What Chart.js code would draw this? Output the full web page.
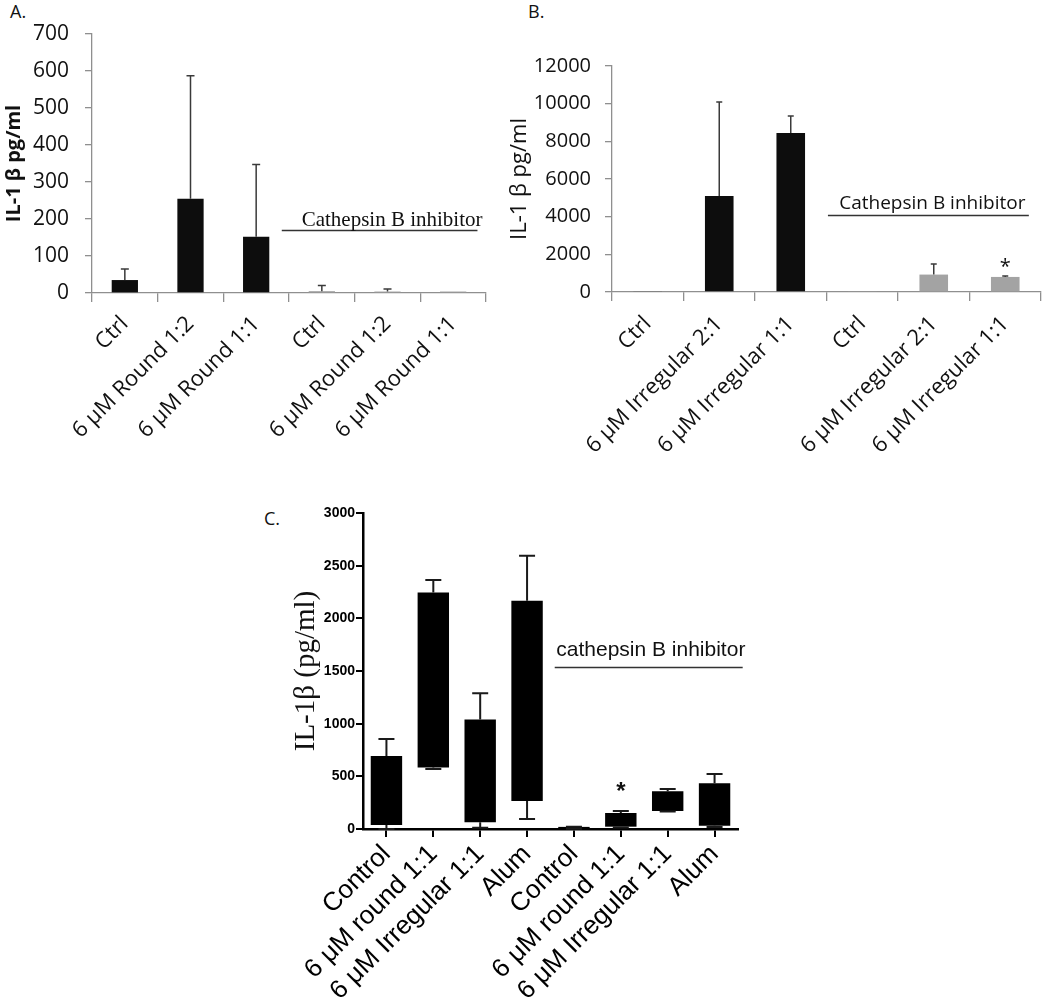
<!DOCTYPE html>
<html>
<head>
<meta charset="utf-8">
<script src="https://cdn.jsdelivr.net/npm/chart.js@4.4.1/dist/chart.umd.min.js"></script>
<style>
    body { margin: 0; background: #fff; width: 1050px; height: 1007px; position: relative; overflow: hidden; }
    .panel { position: absolute; }
    .tag { position: absolute; font-family: "Open Sans", sans-serif; font-size: 18px; line-height: 1; color: #111; }
</style>
</head>
<body>
<div class="tag" style="left:10px;top:2px;">A.</div>
<div class="tag" style="left:528px;top:2px;">B.</div>
<div class="tag" style="left:264px;top:509px;">C.</div>

<canvas class="panel" id="chart-a" width="505" height="480" style="left:0;top:0;"></canvas>
<canvas class="panel" id="chart-b" width="545" height="480" style="left:505px;top:0;"></canvas>
<canvas class="panel" id="chart-c" width="520" height="537" style="left:250px;top:470px;"></canvas>

<script>
// Panel A - round particles
const labelsA = ['Ctrl', '6 μM Round 1:2', '6 μM Round 1:1', 'Ctrl', '6 μM Round 1:2', '6 μM Round 1:1'];
const meansA = [35, 255, 152, 5, 4, 4];
const errTopA = [65, 587, 347, 20, 11, null];
const inhibitorA = [false, false, false, true, true, true];
const ticksA = [0, 100, 200, 300, 400, 500, 600, 700];

// Panel B - irregular particles
const labelsB = ['Ctrl', '6 μM Irregular 2:1', '6 μM Irregular 1:1', 'Ctrl', '6 μM Irregular 2:1', '6 μM Irregular 1:1'];
const meansB = [30, 5100, 8440, 25, 925, 800];
const errTopB = [null, 10090, 9350, null, 1490, 850];
const inhibitorB = [false, false, false, true, true, true];
const starB = [false, false, false, false, false, true];
const ticksB = [0, 2000, 4000, 6000, 8000, 10000, 12000];

// Panel C - box plots (min, box low, box high, max)
const labelsC = ['Control', '6 μM round 1:1', '6 μM Irregular 1:1', 'Alum', 'Control', '6 μM round 1:1', '6 μM Irregular 1:1', 'Alum'];
const minC = [0, 570, 13, 95, 3, 15, 165, 20];
const lowC = [38, 583, 63, 266, 5, 22, 171, 31];
const highC = [694, 2245, 1039, 2167, 20, 152, 358, 434];
const maxC = [855, 2363, 1289, 2594, 22, 171, 380, 522];
const starC = [false, false, false, false, false, true, false, false];
const ticksC = [0, 500, 1000, 1500, 2000, 2500, 3000];

const BLACK = '#0d0d0d';
const GRAY = '#a3a3a3';
const SANS = '"Open Sans", sans-serif';

// error bars (upper only) for panels A/B
function errorBars(tops, color, cap) {
    return {
        id: 'errorBars',
        afterDatasetsDraw(chart) {
            const ctx = chart.ctx;
            const y = chart.scales.y;
            const meta = chart.getDatasetMeta(0);
            ctx.save();
            ctx.strokeStyle = color;
            ctx.lineWidth = 1.5;
            meta.data.forEach((bar, i) => {
                if (tops[i] == null) return;
                const yTop = y.getPixelForValue(tops[i]);
                ctx.beginPath();
                ctx.moveTo(bar.x, bar.y);
                ctx.lineTo(bar.x, yTop);
                ctx.moveTo(bar.x - cap, yTop);
                ctx.lineTo(bar.x + cap, yTop);
                ctx.stroke();
            });
            ctx.restore();
        }
    };
}

// whiskers for panel C
function whiskers(mins, lows, highs, maxs, cap) {
    return {
        id: 'whiskers',
        afterDatasetsDraw(chart) {
            const ctx = chart.ctx;
            const y = chart.scales.y;
            const meta = chart.getDatasetMeta(0);
            ctx.save();
            ctx.strokeStyle = '#1a1a1a';
            ctx.lineWidth = 2;
            meta.data.forEach((bar, i) => {
                const pairs = [[highs[i], maxs[i]], [lows[i], mins[i]]];
                pairs.forEach(([from, to]) => {
                    const y0 = y.getPixelForValue(from);
                    const y1 = y.getPixelForValue(to);
                    ctx.beginPath();
                    ctx.moveTo(bar.x, y0);
                    ctx.lineTo(bar.x, y1);
                    ctx.moveTo(bar.x - cap, y1);
                    ctx.lineTo(bar.x + cap, y1);
                    ctx.stroke();
                });
            });
            ctx.restore();
        }
    };
}

// asterisks above the marked bars
function stars(flags, tops, gap, font) {
    return {
        id: 'stars',
        afterDatasetsDraw(chart) {
            const ctx = chart.ctx;
            const y = chart.scales.y;
            const meta = chart.getDatasetMeta(0);
            ctx.save();
            ctx.fillStyle = '#111';
            ctx.font = font;
            ctx.textAlign = 'center';
            ctx.textBaseline = 'middle';
            meta.data.forEach((bar, i) => {
                if (!flags[i]) return;
                ctx.fillText('*', bar.x, y.getPixelForValue(tops[i]) - gap);
            });
            ctx.restore();
        }
    };
}

// "Cathepsin B inhibitor" label with line under it
function inhibitorLabel(text, font, x0, x1, xText, yVal, lift, color) {
    return {
        id: 'inhibitorLabel',
        afterDraw(chart) {
            const { x, y } = chart.scales;
            const ctx = chart.ctx;
            const py = Math.round(y.getPixelForValue(yVal)) + 0.5;
            ctx.save();
            ctx.strokeStyle = '#333';
            ctx.lineWidth = 1.3;
            ctx.beginPath();
            ctx.moveTo(x.getPixelForValue(x0), py);
            ctx.lineTo(x.getPixelForValue(x1), py);
            ctx.stroke();
            ctx.fillStyle = color;
            ctx.font = font;
            ctx.textAlign = 'center';
            ctx.textBaseline = 'alphabetic';
            ctx.fillText(text, x.getPixelForValue(xText), py - lift);
            ctx.restore();
        }
    };
}

function excelScales(opts) {
    return {
        x: {
            grid: { drawOnChartArea: false, offset: true, tickLength: 9, color: '#8f8f8f', lineWidth: 1.3 },
            border: { color: '#8f8f8f', width: 1.3 },
            ticks: {
                autoSkip: false, minRotation: 45, maxRotation: 45, padding: opts.xPad,
                color: '#111', font: { family: SANS, size: 22 }
            },
            afterFit: s => { s.height = opts.xHeight; }
        },
        y: {
            min: opts.ticks[0],
            max: opts.ticks[opts.ticks.length - 1],
            afterBuildTicks: s => { s.ticks = opts.ticks.map(v => ({ value: v })); },
            grid: { drawOnChartArea: false, tickLength: 7, color: '#8f8f8f', lineWidth: 1.3 },
            border: { color: '#8f8f8f', width: 1.3 },
            ticks: {
                padding: opts.yPad, color: '#111', font: { family: SANS, size: opts.tickSize },
                callback: v => String(v)
            },
            title: {
                display: true, text: 'IL-1 β pg/ml', color: '#111',
                font: { family: SANS, size: opts.titleSize, weight: opts.titleWeight },
                padding: { top: opts.titlePad, bottom: 0 }
            },
            afterFit: s => { s.width = opts.yWidth; }
        }
    };
}

new Chart(document.getElementById('chart-a'), {
    type: 'bar',
    data: {
        labels: labelsA,
        datasets: [{
            data: meansA,
            backgroundColor: inhibitorA.map(f => f ? GRAY : BLACK),
            barPercentage: 0.4,
            categoryPercentage: 1
        }]
    },
    options: {
        responsive: false,
        animation: false,
        layout: { autoPadding: false, padding: { left: 0, top: 34, right: 19, bottom: 0 } },
        plugins: { legend: { display: false }, tooltip: { enabled: false } },
        scales: excelScales({
            ticks: ticksA, xHeight: 480 - 293, yWidth: 92, xPad: 9, yPad: 16,
            tickSize: 21, titleSize: 20, titleWeight: 'bold', titlePad: 2
        })
    },
    plugins: [
        errorBars(errTopA, '#3a3a3a', 4),
        inhibitorLabel('Cathepsin B inhibitor', '21px "Liberation Serif", serif', 2.39, 5.37, 4.07, 170, 5, '#111')
    ]
});

new Chart(document.getElementById('chart-b'), {
    type: 'bar',
    data: {
        labels: labelsB,
        datasets: [{
            data: meansB,
            backgroundColor: inhibitorB.map(f => f ? GRAY : BLACK),
            barPercentage: 0.4,
            categoryPercentage: 1
        }]
    },
    options: {
        responsive: false,
        animation: false,
        layout: { autoPadding: false, padding: { left: 0, top: 66, right: 9, bottom: 0 } },
        plugins: { legend: { display: false }, tooltip: { enabled: false } },
        scales: excelScales({
            ticks: ticksB, xHeight: 480 - 292, yWidth: 107, xPad: 10, yPad: 14,
            tickSize: 20, titleSize: 22, titleWeight: 'normal', titlePad: 2
        })
    },
    plugins: [
        errorBars(errTopB, '#3a3a3a', 3),
        stars(starB, errTopB, 9, '20px "Open Sans", sans-serif'),
        inhibitorLabel('Cathepsin B inhibitor', '19px "Open Sans", sans-serif', 2.52, 5.33, 3.98, 4073, 7, '#111')
    ]
});

new Chart(document.getElementById('chart-c'), {
    type: 'bar',
    data: {
        labels: labelsC,
        datasets: [{
            data: lowC.map((lo, i) => [lo, highC[i]]),
            backgroundColor: '#000',
            barPercentage: 0.67,
            categoryPercentage: 1
        }]
    },
    options: {
        responsive: false,
        animation: false,
        layout: { autoPadding: false, padding: { left: 0, top: 43, right: 32, bottom: 0 } },
        plugins: { legend: { display: false }, tooltip: { enabled: false } },
        scales: {
            x: {
                grid: { drawOnChartArea: false, offset: false, tickLength: 8, color: '#000', lineWidth: 2 },
                border: { color: '#000', width: 2.5 },
                ticks: {
                    autoSkip: false, minRotation: 45, maxRotation: 45, padding: 2,
                    color: '#000', font: { family: '"Liberation Sans", Arial, sans-serif', size: 26 }
                },
                afterFit: s => { s.height = 537 - (829 - 470); }
            },
            y: {
                min: 0,
                max: 3000,
                afterBuildTicks: s => { s.ticks = ticksC.map(v => ({ value: v })); },
                grid: { drawOnChartArea: false, tickLength: 7, color: '#000', lineWidth: 2 },
                border: { color: '#000', width: 2.5 },
                ticks: {
                    padding: 1, color: '#000',
                    font: { family: '"Liberation Sans", Arial, sans-serif', size: 14, weight: 'bold' },
                    callback: v => String(v)
                },
                title: {
                    display: true, text: 'IL-1β (pg/ml)', color: '#111',
                    font: { family: '"Liberation Serif", serif', size: 29 },
                    padding: { top: 39, bottom: 0 }
                },
                afterFit: s => { s.width = 363 - 250; }
            }
        }
    },
    plugins: [
        whiskers(minC, lowC, highC, maxC, 8),
        stars(starC, maxC, 19, 'bold 24px "Liberation Sans", Arial, sans-serif'),
        inhibitorLabel('cathepsin B inhibitor', '21px "Liberation Sans", Arial, sans-serif', 3.59, 7.6, 5.64, 1540, 12, '#111')
    ]
});
</script>
</body>
</html>
